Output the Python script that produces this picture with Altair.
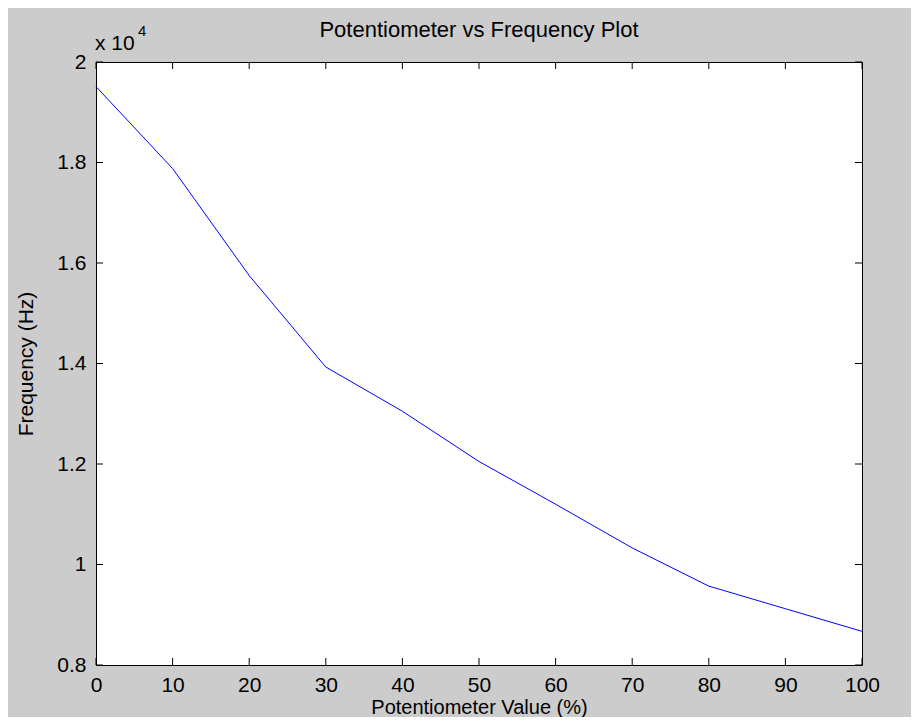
import altair as alt
import pandas as pd

# Data
pot_pct = [0, 10, 20, 30, 40, 50, 60, 70, 80, 90, 100]
freq_hz = [19510, 17880, 15750, 13930, 13050, 12050, 11200, 10330, 9570, 9120, 8670]

x_ticks = [0, 10, 20, 30, 40, 50, 60, 70, 80, 90, 100]
y_ticks = [8000, 10000, 12000, 14000, 16000, 18000, 20000]

exp_base = ["x 10"]
exp_pow = ["4"]

W, H = 766, 603
FONT = "Liberation Sans"
TL = 7  # inward tick length

df = pd.DataFrame({"pct": pot_pct, "freq": freq_hz})
dx = pd.DataFrame({"v": x_ticks})
dy = pd.DataFrame({"v": y_ticks})

xscale = alt.Scale(domain=[0, 100], nice=False, zero=False)
yscale = alt.Scale(domain=[8000, 20000], nice=False, zero=False)

xaxis = alt.Axis(values=x_ticks, title="Potentiometer Value (%)",
                 grid=False, ticks=False, domain=False,
                 labelFlush=False, labelPadding=9,
                 labelFontSize=21, titleFontSize=20,
                 titleX=W / 2, titleY=42, titleBaseline="middle",
                 titleAlign="center")
yaxis = alt.Axis(values=y_ticks, title="Frequency (Hz)",
                 labelExpr="format(datum.value/10000, '~g')",
                 grid=False, ticks=False, domain=False,
                 labelFlush=False, labelPadding=10,
                 labelFontSize=21, titleFontSize=21,
                 titleX=-70, titleY=H / 2, titleAngle=270,
                 titleBaseline="middle", titleAlign="center")

line = alt.Chart(df).mark_line(color="#0000ff", strokeWidth=1).encode(
    x=alt.X("pct:Q", scale=xscale, axis=xaxis),
    y=alt.Y("freq:Q", scale=yscale, axis=yaxis),
)

bottom_t = alt.Chart(dx).mark_rule(color="black", strokeWidth=1).encode(
    x=alt.X("v:Q", scale=xscale, axis=xaxis),
    y=alt.value(H), y2=alt.value(H - TL))
top_t = alt.Chart(dx).mark_rule(color="black", strokeWidth=1).encode(
    x=alt.X("v:Q", scale=xscale, axis=xaxis),
    y=alt.value(0), y2=alt.value(TL))
left_t = alt.Chart(dy).mark_rule(color="black", strokeWidth=1).encode(
    y=alt.Y("v:Q", scale=yscale, axis=yaxis),
    x=alt.value(0), x2=alt.value(TL))
right_t = alt.Chart(dy).mark_rule(color="black", strokeWidth=1).encode(
    y=alt.Y("v:Q", scale=yscale, axis=yaxis),
    x=alt.value(W), x2=alt.value(W - TL))

exp1 = alt.Chart(pd.DataFrame({"t": exp_base})).mark_text(
    align="left", baseline="middle", fontSize=21, font=FONT, color="black"
).encode(text="t:N", x=alt.value(-1), y=alt.value(-18))
exp2 = alt.Chart(pd.DataFrame({"t": exp_pow})).mark_text(
    align="left", baseline="middle", fontSize=15, font=FONT, color="black"
).encode(text="t:N", x=alt.value(42), y=alt.value(-31))

chart = alt.layer(line, bottom_t, top_t, left_t, right_t, exp1, exp2).properties(
    width=W, height=H,
    title=alt.Title("Potentiometer vs Frequency Plot", fontSize=22, font=FONT,
                    fontWeight="normal", color="black", anchor="middle",
                    frame="group", offset=0, dy=35, baseline="alphabetic"),
    padding={"left": 88, "top": 54, "right": 49, "bottom": 52},
    autosize=alt.AutoSizeParams(type="none"),
    background="#cccccc",
).configure_view(
    fill="white", stroke="black", strokeWidth=1
).configure_axis(
    labelFont=FONT, titleFont=FONT, labelColor="black", titleColor="black",
    titleFontWeight="normal"
)

chart.save("out.html", embed_options={"renderer": "svg", "actions": False})
